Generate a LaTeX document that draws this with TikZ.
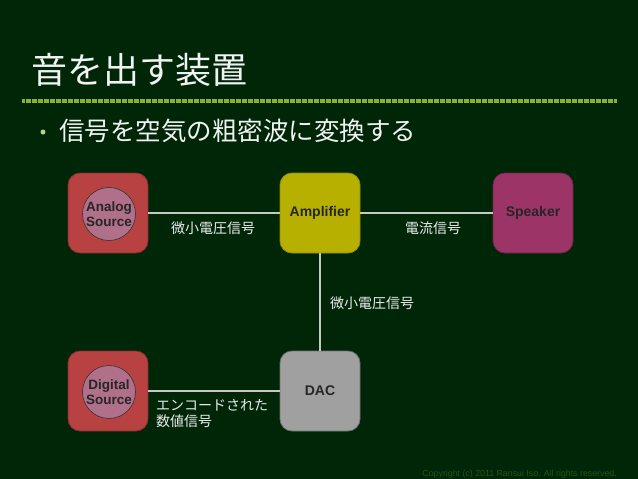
\documentclass[tikz,border=0pt]{standalone}
\usepackage{fontspec}
\setmainfont{Liberation Sans}
\newfontfamily\jpfont{Noto Sans CJK JP}
\usetikzlibrary{positioning}
\definecolor{slidebg}{RGB}{0,38,8}
\definecolor{rulegreen}{RGB}{140,176,48}
\definecolor{srcred}{RGB}{184,66,66}
\definecolor{srcpink}{RGB}{176,112,138}
\definecolor{ampyellow}{RGB}{184,176,0}
\definecolor{spkmagenta}{RGB}{156,52,104}
\definecolor{dacgray}{RGB}{160,160,160}
\definecolor{wiregray}{RGB}{200,200,192}
\definecolor{copygreen}{RGB}{38,84,22}
\tikzset{
  unit/.style={rectangle, rounded corners=12pt, minimum width=80pt, minimum height=80pt, inner sep=0pt, line width=0.8pt, font=\bfseries\fontsize{14}{15}\selectfont, text=black!85},
  source/.style={unit, draw=srcred!70!black, fill=srcred},
  amp/.style={unit, draw=ampyellow!80!black, fill=ampyellow},
  spk/.style={unit, draw=spkmagenta!70!black, fill=spkmagenta},
  conv/.style={unit, draw=dacgray!70!black, fill=dacgray},
  disc/.style={circle, draw=black!80, fill=srcpink, line width=0.6pt, minimum size=53pt, inner sep=0pt, align=center, font=\bfseries\fontsize{13.5}{15}\selectfont, text=black!85},
  wire/.style={draw=wiregray, line width=2pt},
  siglabel/.style={text=white!92!black, font=\jpfont\fontsize{14}{16}\selectfont, inner sep=0pt, align=left}
}
\begin{document}
\begin{tikzpicture}[x=1pt,y=-1pt]
  \fill[slidebg] (0,0) rectangle (638,479);
  \useasboundingbox (0,0) rectangle (638,479);
  % title
  \node[anchor=west, text=white!95!black, font=\jpfont\fontsize{36}{40}\selectfont, inner sep=0pt] (title) at (31,70) {音を出す装置};
  \draw[rulegreen, line width=3.5pt, dash pattern=on 0.6pt off 0.6pt] (22,101) -- (617,101);
  \node[circle, fill=rulegreen!60!white, minimum size=5pt, inner sep=0pt] (dot) at (43,132) {};
  \node[anchor=west, text=white!95!black, font=\jpfont\fontsize{25.5}{28}\selectfont, inner sep=0pt] (bullet) at (59,131) {信号を空気の粗密波に変換する};
  % units
  \node[source] (analog) at (108,213) {};
  \node[disc] (analogsrc) at (109,214) {Analog\\Source};
  \node[amp] (amp) at (320,213) {Amplifier};
  \node[spk] (speaker) at (533,213) {Speaker};
  \node[source] (digital) at (108,391) {};
  \node[disc] (digitalsrc) at (109,392) {Digital\\Source};
  \node[conv] (dac) at (320,391) {DAC};
  % wires
  \draw[wire] (analog) -- (amp);
  \draw[wire] (amp) -- (speaker);
  \draw[wire] (amp) -- (dac);
  \draw[wire] (digital) -- (dac);
  % signal labels
  \node[siglabel] (lblmv) at (213,228) {微小電圧信号};
  \node[siglabel] (lblcur) at (433,228) {電流信号};
  \node[siglabel] (lblmv2) at (372,303) {微小電圧信号};
  \node[siglabel, anchor=west] (lblenc) at (156,413) {エンコードされた\\数値信号};
  % footer
  \node[anchor=east, text=copygreen, font=\fontsize{8.8}{10}\selectfont, inner sep=0pt] (copy) at (617,474) {Copyright (c) 2011 Ransui Iso. All rights reserved.};
\end{tikzpicture}
\end{document}
